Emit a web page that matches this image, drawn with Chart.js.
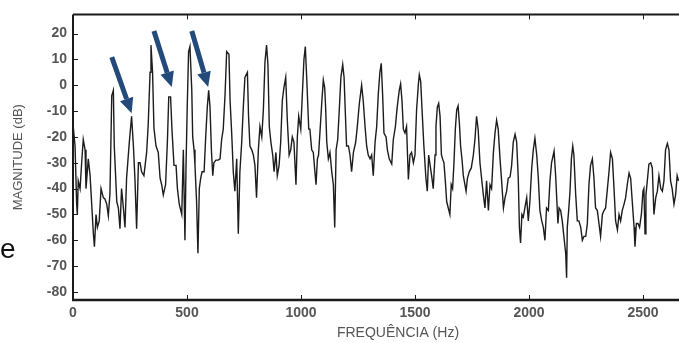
<!DOCTYPE html>
<html>
<head>
<meta charset="utf-8">
<script src="https://cdn.jsdelivr.net/npm/chart.js@4.4.1/dist/chart.umd.min.js"></script>
<style>
  body { margin: 0; background: #fff; overflow: hidden; }
  #wrap { position: relative; width: 679px; height: 343px; overflow: hidden; }
  #spectrum { position: absolute; left: 0; top: 0; }
  #side { position: absolute; left: 0; top: 235px; font: 28px "Liberation Sans", Arial, sans-serif; line-height: 1; color: #111; }
</style>
</head>
<body>
<div id="wrap">
  <canvas id="spectrum" width="730" height="343"></canvas>
  <span id="side">e</span>
</div>
<script>
// Espectro: frequência (Hz) e magnitude (dB)
const freqHz = [
  0, 9, 16, 19, 23, 31, 38, 45, 53, 57, 67, 75, 82, 89, 94, 101, 107, 115, 123, 133,
  140, 148, 155, 162, 170, 177, 181, 192, 199, 206, 213, 221, 228, 235, 247, 257, 265, 272, 279, 287,
  294, 301, 311, 323, 330, 338, 342, 349, 355, 364, 374, 382, 389, 396, 406, 414, 420, 428, 434, 443,
  452, 458, 466, 477, 484, 491, 496, 501, 507, 513,
  521, 525, 531, 535, 542, 548, 554, 560, 566, 575, 582, 589, 595, 601, 607, 613, 618, 627, 637, 645,
  652, 659, 667, 674, 684, 689, 696, 703, 710, 718, 725, 732, 740, 747, 754, 765, 770, 776, 784, 791,
  798, 805, 813, 820, 828, 835, 842, 849, 855, 861, 868, 876, 882, 890, 896, 904, 911, 918, 925, 933,
  940, 948, 955, 962, 969, 978, 984, 990, 999, 1006, 1013, 1019, 1025, 1034,
  1039, 1047, 1054, 1061, 1066, 1072, 1077, 1083, 1091, 1098, 1104, 1108, 1113, 1120, 1127, 1135, 1142, 1148, 1154, 1161,
  1168, 1175, 1183, 1189, 1194, 1200, 1208, 1215, 1222, 1230, 1240, 1247, 1256, 1266, 1273, 1281, 1288, 1295, 1303, 1310,
  1317, 1325, 1332, 1339, 1346, 1352, 1358, 1364, 1373, 1379, 1387, 1398, 1405, 1414, 1422, 1431, 1437, 1443, 1449, 1456,
  1463, 1471, 1478, 1485, 1493, 1500, 1507, 1515, 1519, 1525, 1531, 1539, 1548, 1554, 1560,
  1573, 1580, 1588, 1592, 1598, 1604, 1610, 1616, 1621, 1627, 1633, 1639, 1646, 1653, 1659, 1665, 1671, 1677, 1683, 1689,
  1695, 1700, 1706, 1712, 1719, 1724, 1730, 1738, 1747, 1756, 1763, 1770, 1777, 1785, 1792, 1800, 1807, 1814, 1822, 1829,
  1836, 1844, 1851, 1858, 1865, 1873, 1880, 1888, 1895, 1902, 1909, 1917, 1924, 1931, 1939, 1946, 1953, 1958, 1963, 1969,
  1975, 1982, 1990, 1997, 2004, 2012, 2019, 2026, 2034, 2041, 2048, 2056, 2063, 2070, 2077, 2085, 2092, 2099,
  2110, 2117, 2121, 2127, 2132, 2139, 2146, 2153, 2161, 2165, 2168, 2174, 2180, 2186, 2192, 2197, 2205, 2212, 2219, 2227,
  2234, 2241, 2249, 2256, 2263, 2270, 2278, 2285, 2292, 2300, 2307, 2314, 2322, 2329, 2336, 2344, 2351, 2358, 2366, 2373,
  2380, 2388, 2395, 2402, 2409, 2417, 2424, 2431, 2439, 2446, 2453, 2461, 2465, 2471, 2478, 2485, 2493, 2500, 2504, 2509,
  2513, 2519, 2526, 2534, 2541, 2548, 2556, 2563, 2570, 2578, 2585, 2592, 2599, 2607, 2614, 2621, 2628, 2636, 2643, 2650,
  2656
];
const magnitudeDb = [
  -15, -23.5, -46, -50, -37, -40, -30, -21, -25, -40, -28.5, -35, -46, -57, -62.5, -50, -55, -52.5, -40, -43.5,
  -44, -46, -50.5, -42, -4, -2, -23.5, -45, -47.5, -55.5, -40, -47.5, -55, -36, -22, -12, -23.5, -37, -55.5, -30,
  -30, -33.5, -35, -26, -15, 5, 15.5, 5, -16.5, -23.5, -26, -36, -38.5, -42.5, -38.5, -22, -4.5, -4.5, -17, -31,
  -31, -40, -46, -50, -25, -60, -30, -8.5, 13, 15,
  -2, -20, -25, -31, -45, -65, -40, -36, -33.5, -33.5, -20, -8.5, -2, -8.5, -25, -35, -30, -29, -29, -28.5,
  -21, -17, -3.5, 13, 12, -6, -18.5, -33.5, -41, -28.5, -57.5, -33.5, -22, -8.5, 3, 5, -12, -23.5, -25, -27,
  -31, -43.5, -25, -16, -20, -9.5, 9, 15.5, 8, -16, -22, -27, -33.5, -26, -35, -31, -22, -6, -1, 3,
  -13.5, -27, -25, -20, -22, -38.5, -20, -12, -17, -3.5, 10, 15, 3, -17,
  -17, -25, -26, -33.5, -38.5, -28.5, -27, -18.5, -7, 2, -1, -8.5, -22, -28.5, -26, -33.5, -38.5, -55, -25, -21,
  -9.5, 3, 8, 3, -9.5, -23.5, -23.5, -27, -33.5, -26, -22, -16, -7, 0, -6, -16, -23.5, -27, -28.5, -27,
  -35, -22, -16, -3.5, 5, 8.5, -3.5, -18.5, -20, -25, -28.5, -30.5, -21, -16, -8.5, -2, 0.5, -6, -17, -18.5,
  -16, -36.5, -27, -26, -30, -27, -9.5, 0.5, 4, 1.5, -9.5, -23.5, -36, -41, -27,
  -35, -40, -27, -16, -8.5, -7, -12, -27, -28.5, -30, -37, -45, -47.5, -50, -38.5, -40, -30, -17, -9.5, -8,
  -15, -23.5, -28.5, -35, -38.5, -41, -36, -33.5, -32, -27, -21, -12, -17, -30, -36, -42.5, -47.5, -37, -48.5, -38.5,
  -40, -26, -18.5, -13.5, -17, -28.5, -37, -47.5, -43.5, -41, -36, -35.5, -31, -22, -19, -22, -36, -55, -61, -50,
  -51, -47.5, -43.5, -52.5, -45, -32, -25, -20.5, -27, -36, -48.5, -52.5, -55, -60, -47.5, -48.5, -37, -30,
  -25.5, -35, -42.5, -53.5, -47.5, -48.5, -52.5, -58.5, -65, -74.5, -55, -48.5, -41, -28.5, -23.5, -27, -42.5, -52.5, -52.5, -55,
  -60, -58.5, -58.5, -53.5, -38.5, -31, -28.5, -36, -47.5, -48.5, -53.5, -58.5, -50, -48.5, -47.5, -40, -33.5, -26, -28.5, -40,
  -52.5, -56, -50, -52.5, -48.5, -46, -43.5, -38.5, -34, -36, -45, -55, -62.5, -53.5, -53.5, -55, -50, -41, -40, -57.5,
  -42.5, -37, -30.5, -30, -32, -50, -43.5, -41, -35, -40, -41, -37, -25, -22.5, -25, -37, -40, -46, -42.5, -35,
  -37
];
const xTicks = [0, 500, 1000, 1500, 2000, 2500];
const yTicks = [20, 10, 0, -10, -20, -30, -40, -50, -60, -70, -80];

// setas azuis (início e ponta, em Hz / dB)
const arrowFrom = [[170, 10.9], [355, 21], [521, 21]];
const arrowTo = [[257, -10.8], [433, -0.7], [593, -0.7]];

const tickFont = { family: 'Liberation Sans', size: 14, weight: 'bold' };

// moldura, marcas de escala e setas
const framePlugin = {
  id: 'frame',
  afterDraw(chart) {
    const { ctx, chartArea: a, scales: { x, y } } = chart;
    ctx.save();
    ctx.strokeStyle = '#1a1a1a';
    ctx.lineWidth = 1;
    xTicks.forEach(v => {
      const px = Math.round(x.getPixelForValue(v)) + 0.5;
      ctx.beginPath();
      ctx.moveTo(px, a.bottom); ctx.lineTo(px, a.bottom - 5);
      ctx.moveTo(px, a.top); ctx.lineTo(px, a.top + 5);
      ctx.stroke();
    });
    yTicks.forEach(v => {
      const py = Math.round(y.getPixelForValue(v)) + 0.5;
      ctx.beginPath();
      ctx.moveTo(a.left, py); ctx.lineTo(a.left + 5, py);
      ctx.stroke();
    });
    ctx.lineWidth = 2;
    ctx.beginPath();
    ctx.moveTo(a.left, a.top); ctx.lineTo(a.right, a.top);
    ctx.moveTo(a.left, a.top); ctx.lineTo(a.left, a.bottom);
    ctx.stroke();
    ctx.lineWidth = 2.5;
    ctx.beginPath();
    ctx.moveTo(a.left - 1, a.bottom); ctx.lineTo(a.right, a.bottom);
    ctx.stroke();

    ctx.fillStyle = '#234a7a';
    ctx.strokeStyle = '#234a7a';
    arrowFrom.forEach((f, i) => {
      const x0 = x.getPixelForValue(f[0]), y0 = y.getPixelForValue(f[1]);
      const x1 = x.getPixelForValue(arrowTo[i][0]), y1 = y.getPixelForValue(arrowTo[i][1]);
      const ang = Math.atan2(y1 - y0, x1 - x0);
      const headLen = 15, headHalf = 7;
      const bx = x1 - headLen * Math.cos(ang), by = y1 - headLen * Math.sin(ang);
      ctx.lineWidth = 5;
      ctx.lineCap = 'butt';
      ctx.beginPath();
      ctx.moveTo(x0, y0); ctx.lineTo(bx, by);
      ctx.stroke();
      ctx.beginPath();
      ctx.moveTo(x1, y1);
      ctx.lineTo(bx + headHalf * Math.sin(ang), by - headHalf * Math.cos(ang));
      ctx.lineTo(bx - headHalf * Math.sin(ang), by + headHalf * Math.cos(ang));
      ctx.closePath();
      ctx.fill();
    });
    ctx.restore();
  }
};

new Chart(document.getElementById('spectrum'), {
  type: 'line',
  data: {
    datasets: [{
      data: freqHz.map((f, i) => ({ x: f, y: magnitudeDb[i] })),
      borderColor: '#1c1c1c',
      borderWidth: 1.4,
      pointRadius: 0,
      tension: 0,
      fill: false
    }]
  },
  options: {
    responsive: false,
    animation: false,
    devicePixelRatio: 1,
    layout: { padding: { left: 0, top: 7, right: 7, bottom: 0 } },
    scales: {
      x: {
        type: 'linear',
        min: 0,
        max: 2851,
        grid: { display: false, drawTicks: false },
        border: { display: false },
        afterBuildTicks: s => { s.ticks = xTicks.map(v => ({ value: v })); },
        afterFit: s => { s.height = 43; },
        ticks: { color: '#555', font: tickFont, padding: 5, maxRotation: 0, callback: v => String(v) },
        title: {
          display: true,
          text: 'FREQUÊNCIA (Hz)',
          color: '#555',
          font: { family: 'Liberation Sans', size: 14 },
          padding: { top: 0, bottom: 1 }
        }
      },
      y: {
        type: 'linear',
        min: -83.1,
        max: 27.4,
        grid: { display: false, drawTicks: false },
        border: { display: false },
        afterBuildTicks: s => { s.ticks = yTicks.map(v => ({ value: v })); },
        afterFit: s => { s.width = 73; },
        ticks: { color: '#555', font: tickFont, padding: 6, callback: v => String(v) },
        title: {
          display: true,
          text: 'MAGNITUDE (dB)',
          color: '#555',
          font: { family: 'Liberation Sans', size: 13 },
          padding: { top: 11, bottom: 0 }
        }
      }
    },
    plugins: {
      legend: { display: false },
      tooltip: { enabled: false }
    }
  },
  plugins: [framePlugin]
});
</script>
</body>
</html>
